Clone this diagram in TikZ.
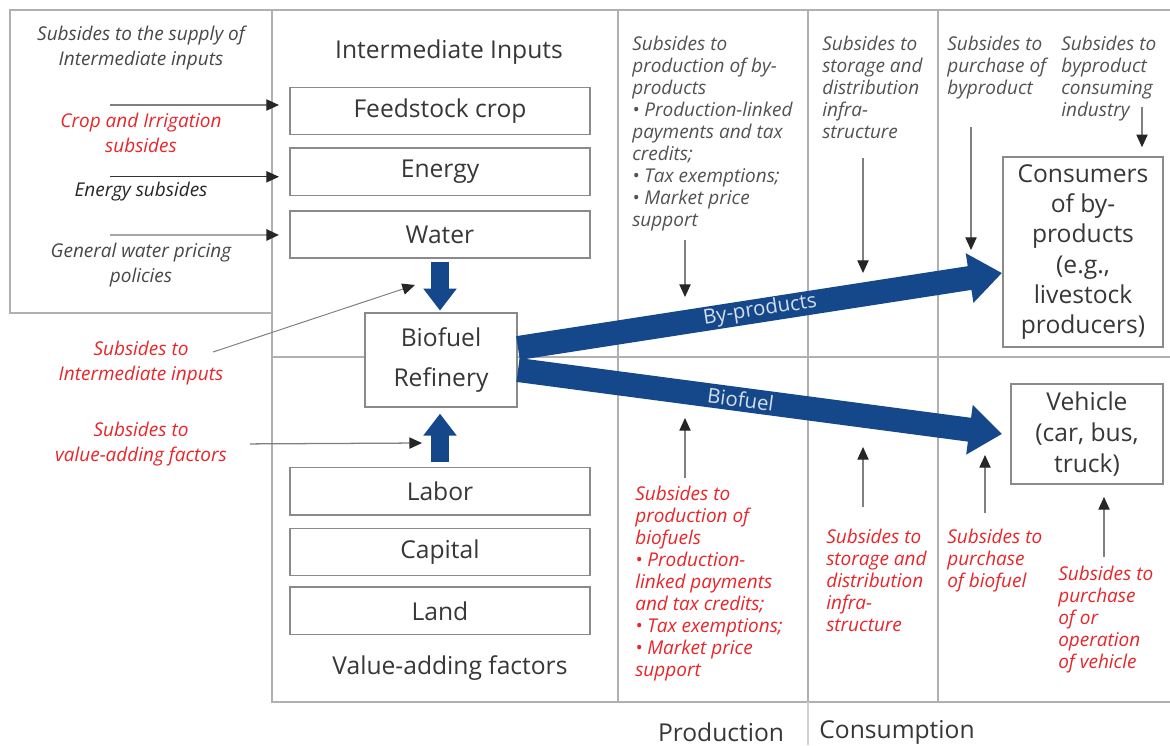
\documentclass[tikz,border=0pt]{standalone}
\usepackage{fontspec}
\setmainfont{Open Sans}
\usetikzlibrary{positioning, arrows.meta, calc}

\definecolor{flowblue}{RGB}{20,72,138}
\definecolor{subred}{RGB}{232,38,42}
\definecolor{linegray}{RGB}{176,176,176}
\definecolor{boxgray}{RGB}{138,138,138}
\definecolor{inkgray}{RGB}{55,55,55}

\begin{document}
\begin{tikzpicture}[
        x=0.025cm, y=-0.025cm,
        frame/.style={draw=linegray, line width=0.9pt},
        box/.style={draw=boxgray, line width=1.4pt, fill=white, text=inkgray, minimum width=7.5cm, minimum height=1.175cm, font=\fontsize{17.5}{20}\selectfont},
        endbox/.style={draw=boxgray, line width=1.4pt, fill=white, text=inkgray, align=center},
        title/.style={text=inkgray, font=\fontsize{17.5}{20}\selectfont},
        sidenote/.style={align=center, text=black!72, font=\fontsize{13.5}{17.5}\selectfont\itshape},
        colnote/.style={anchor=north west, inner sep=0pt, align=left, text=black!68, font=\fontsize{13.5}{15.6}\selectfont\itshape},
        subarrow/.style={-{Triangle[width=8pt, length=9pt, color=black!85]}, draw=black!50, line width=0.9pt},
        flow/.style={-{Triangle[width=1.2cm, length=0.82cm]}, draw=flowblue, line width=0.6cm},
        feed/.style={-{Triangle[width=0.8cm, length=0.55cm]}, draw=flowblue, line width=0.45cm},
        flowlabel/.style={sloped, text=white!82!flowblue, font=\fontsize{14.5}{17}\selectfont}
    ]
    \useasboundingbox[fill=white] (0,0) rectangle (1170,745);

    % table lines
    \draw[frame] (10,10) rectangle (272,313);
    \draw[frame] (272,10) -- (1170,10);
    \draw[frame] (272,10) -- (272,702) -- (1170,702);
    \draw[frame] (272,357) -- (1170,357);
    \draw[frame] (618,10) -- (618,702);
    \draw[frame] (808,10) -- (808,702);
    \draw[frame, draw=linegray!60] (808,702) -- (808,745);
    \draw[frame] (938,10) -- (938,702);

    % inputs and factors
    \node[title] (inhead) at (449,52) {Intermediate Inputs};
    \node[box] (feedstock) at (440,111) {Feedstock crop};
    \node[box, below=0.3cm of feedstock] (energy) {Energy};
    \node[box, below=0.35cm of energy] (water) {Water};

    \node[endbox, minimum width=3.8cm, minimum height=2.35cm, font=\fontsize{17.5}{29}\selectfont] (refinery) at (441,360) {Biofuel\\Refinery};

    \node[box] (labor) at (440,491) {Labor};
    \node[box, below=0.3cm of labor] (capital) {Capital};
    \node[box, below=0.25cm of capital] (land) {Land};
    \node[title] (vahead) at (450,668) {Value-adding factors};

    % end users
    \node[endbox, minimum width=4cm, minimum height=4.75cm, font=\fontsize{17.5}{21.5}\selectfont] (consumers) at (1083,252) {Consumers\\of by-\\products\\(e.g.,\\livestock\\producers)};
    \node[endbox, minimum width=3.8cm, minimum height=2.5cm, font=\fontsize{17.5}{22}\selectfont] (vehicle) at (1087,434) {Vehicle\\(car, bus,\\truck)};

    \node[title] (prodhead) at (721,732) {Production};
    \node[title] (conshead) at (897,732) {Consumption};

    % notes on the left
    \node[sidenote] (supplyhead) at (141,48) {Subsides to the supply of\\Intermediate inputs};
    \node[sidenote, text=subred] (cropsub) at (141,133) {Crop and Irrigation\\subsides};
    \node[sidenote, text=black!85] (energysub) at (141,192) {Energy subsides};
    \node[sidenote] (watersub) at (141,265) {General water pricing\\policies};
    \node[sidenote, text=subred] (intsub) at (141,363) {Subsides to\\Intermediate inputs};
    \node[sidenote, text=subred] (vafsub) at (141,444) {Subsides to\\value-adding factors};

    % notes in the columns
    \node[colnote] (bpprod) at (632,36) {Subsides to\\production of by-\\products\\• Production-linked\\payments and tax\\credits;\\• Tax exemptions;\\• Market price\\support};
    \node[colnote] (bpstore) at (822,36) {Subsides to\\storage and\\distribution\\infra-\\structure};
    \node[colnote] (bpbuy) at (947,36) {Subsides to\\purchase of\\byproduct};
    \node[colnote] (bpind) at (1061,36) {Subsides to\\byproduct\\consuming\\industry};
    \node[colnote, text=subred] (bfprod) at (635,486) {Subsides to\\production of\\biofuels\\• Production-\\linked payments\\and tax credits;\\• Tax exemptions;\\• Market price\\support};
    \node[colnote, text=subred] (bfstore) at (826,529) {Subsides to\\storage and\\distribution\\infra-\\structure};
    \node[colnote, text=subred] (bfbuy) at (947,529) {Subsides to\\purchase\\of biofuel};
    \node[colnote, text=subred] (vehsub) at (1058,566) {Subsides to\\purchase\\of or\\operation\\of vehicle};

    % subsidy arrows into the inputs
    \coordinate (subx) at (110,0);
    \draw[subarrow] ([yshift=0.15cm]feedstock.west -| subx) -- ([xshift=-0.25cm, yshift=0.15cm]feedstock.west);
    \draw[subarrow, draw=black!80] ([yshift=-0.12cm]energy.west -| subx) -- ([xshift=-0.25cm, yshift=-0.12cm]energy.west);
    \draw[subarrow, draw=black!35, line width=1.6pt] (water.west -| subx) -- ([xshift=-0.25cm]water.west);

    \coordinate (inttail) at (213,352);
    \coordinate (inttip) at (415,285);
    \draw[subarrow, line width=0.7pt] (inttail) -- (inttip);
    \coordinate (vaftip) at (422,443);
    \draw[subarrow, shorten <=0.45cm] (vafsub.east) -- (vaftip);

    % flows through the refinery
    \draw[feed, shorten <=2pt, shorten >=1pt] (water.south) -- (water.south |- refinery.north);
    \draw[feed, shorten <=3pt, shorten >=4pt] (labor.north) -- (labor.north |- refinery.south);
    \draw[flow] ([yshift=0.3cm]refinery.east) -- node[flowlabel, pos=0.5] {By-products} ([yshift=-0.525cm]consumers.west);
    \draw[flow] ([yshift=-0.25cm]refinery.east) -- node[flowlabel, pos=0.46] {Biofuel} ([xshift=-0.2cm]vehicle.west);

    % subsidy arrows along the chain
    \coordinate (bpprod-tail) at (685,240);
    \coordinate (bpprod-tip) at (685,297);
    \coordinate (bpstore-tail) at (863,158);
    \coordinate (bpstore-tip) at (863,273);
    \coordinate (bpbuy-tail) at (971,127);
    \coordinate (bpbuy-tip) at (971,250);
    \coordinate (bpind-tail) at (1142,107);
    \coordinate (bfprod-tail) at (685,478);
    \coordinate (bfprod-tip) at (685,418);
    \coordinate (bfstore-tail) at (863,507);
    \coordinate (bfstore-tip) at (863,447);
    \coordinate (bfbuy-tail) at (985,513);
    \coordinate (bfbuy-tip) at (985,455);
    \coordinate (vehsub-tail) at (1104,557);

    \draw[subarrow] (bpprod-tail) -- (bpprod-tip);
    \draw[subarrow] (bpstore-tail) -- (bpstore-tip);
    \draw[subarrow] (bpbuy-tail) -- (bpbuy-tip);
    \draw[subarrow, shorten >=0.22cm] (bpind-tail) -- (bpind-tail |- consumers.north);
    \draw[subarrow] (bfprod-tail) -- (bfprod-tip);
    \draw[subarrow] (bfstore-tail) -- (bfstore-tip);
    \draw[subarrow] (bfbuy-tail) -- (bfbuy-tip);
    \draw[subarrow, shorten >=0.3cm] (vehsub-tail) -- (vehsub-tail |- vehicle.south);
\end{tikzpicture}
\end{document}
